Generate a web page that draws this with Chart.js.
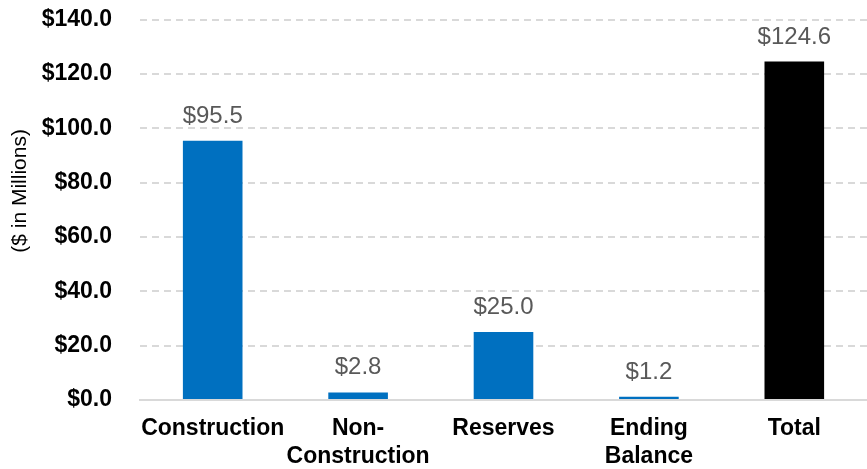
<!DOCTYPE html>
<html>
<head>
<meta charset="utf-8">
<script src="https://cdn.jsdelivr.net/npm/chart.js@4.4.1/dist/chart.umd.min.js"></script>
<style>
  html, body { margin: 0; padding: 0; background: #fff; }
  #wrap { width: 867px; height: 469px; }
</style>
</head>
<body>
<div id="wrap"><canvas id="grafico"></canvas></div>
<script>
// dados do gráfico
let categorias = [["Construction"], ["Non-", "Construction"], ["Reserves"], ["Ending", "Balance"], ["Total"]];
let valores = [95.5, 2.8, 25.0, 1.2, 124.6];
let cores = ["#0070C0", "#0070C0", "#0070C0", "#0070C0", "#000000"];
let ticksY = [0, 20, 40, 60, 80, 100, 120, 140];
let tituloY = "($ in Millions)";

const fonte = "'Liberation Sans', Arial, sans-serif";

// rótulos em cima das barras + título do eixo Y
const rotulos = {
  id: "rotulos",
  afterDatasetsDraw(chart) {
    const ctx = chart.ctx;
    ctx.save();
    ctx.font = "24px " + fonte;
    ctx.fillStyle = "#595959";
    ctx.textAlign = "center";
    ctx.textBaseline = "alphabetic";
    chart.getDatasetMeta(0).data.forEach((bar, i) => {
      ctx.fillText("$" + valores[i].toFixed(1), bar.x, bar.y - 18);
    });
    ctx.restore();

    // título do eixo, um pouco acima do centro como no original
    ctx.save();
    ctx.font = "21px " + fonte;
    ctx.fillStyle = "#000";
    ctx.textAlign = "center";
    ctx.textBaseline = "middle";
    ctx.translate(20, chart.chartArea.top + (chart.chartArea.bottom - chart.chartArea.top) * 0.45);
    ctx.rotate(-Math.PI / 2);
    ctx.fillText(tituloY, 0, 0);
    ctx.restore();
  },
};

new Chart(document.getElementById("grafico"), {
  type: "bar",
  data: {
    labels: categorias,
    datasets: [
      {
        data: valores,
        backgroundColor: cores,
        barPercentage: 0.41,
        categoryPercentage: 1,
      },
    ],
  },
  options: {
    responsive: true,
    maintainAspectRatio: false,
    animation: false,
    layout: { padding: 0 },
    plugins: {
      legend: { display: false },
      tooltip: { enabled: false },
    },
    scales: {
      x: {
        afterFit: (scale) => { scale.height = 69; },
        grid: { display: false, drawTicks: false },
        border: { display: true, color: "#d9d9d9", width: 2 },
        ticks: {
          color: "#000",
          padding: 15,
          maxRotation: 0,
          autoSkip: false,
          font: { family: fonte, size: 23, weight: "bold", lineHeight: 1.2 },
        },
      },
      y: {
        min: 0,
        max: 140,
        afterFit: (scale) => { scale.width = 140; },
        afterBuildTicks: (scale) => { scale.ticks = ticksY.map((v) => ({ value: v })); },
        grid: { color: "#d9d9d9", lineWidth: 2, drawTicks: true, tickLength: 22, tickColor: "rgba(0,0,0,0)" },
        border: { display: false, dash: [7, 5] },
        ticks: {
          color: "#000",
          padding: 6,
          callback: (v) => "$" + Number(v).toFixed(1),
          font: { family: fonte, size: 23, weight: "bold" },
        },
      },
    },
  },
  plugins: [rotulos],
});
</script>
</body>
</html>
